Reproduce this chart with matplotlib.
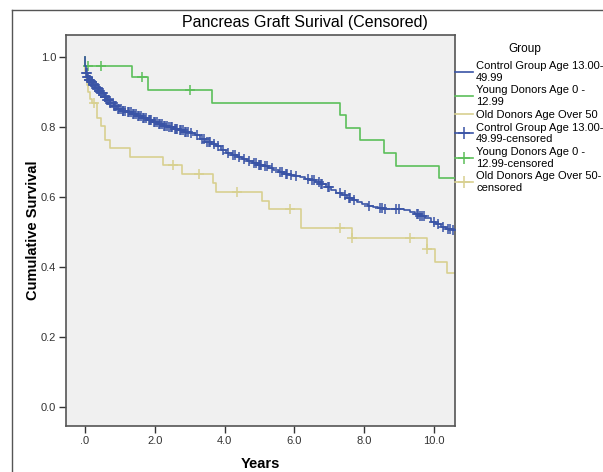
import numpy as np
import matplotlib.pyplot as plt
from matplotlib.lines import Line2D

plt.rcParams['font.family'] = ['Liberation Sans', 'DejaVu Sans']

# Daten: Ereigniszeiten (Jahre) und kumulative Überlebensrate danach
t_control = [0.0, 0.01, 0.03, 0.06, 0.10, 0.15, 0.22, 0.30, 0.38, 0.46, 0.55, 0.63, 0.72,
             0.82, 0.92, 1.05, 1.20, 1.35, 1.50, 1.65, 1.80, 1.95, 2.10, 2.25, 2.40, 2.55,
             2.70, 2.85, 3.00, 3.15, 3.30, 3.45, 3.60, 3.75, 3.90, 4.05, 4.20, 4.35, 4.50,
             4.65, 4.80, 4.95, 5.10, 5.25, 5.40, 5.55, 5.70, 5.85, 6.00, 6.15, 6.30, 6.45,
             6.60, 6.75, 6.90, 7.05, 7.20, 7.35, 7.50, 7.65, 7.80, 7.95, 8.10, 8.25, 8.40,
             8.55, 8.75, 8.95, 9.15, 9.30, 9.45, 9.60, 9.75, 9.90, 10.05, 10.20, 10.35, 10.50]
s_control = [1.0, 0.975, 0.955, 0.943, 0.935, 0.928, 0.920, 0.912, 0.904, 0.896, 0.887, 0.878, 0.869,
             0.861, 0.853, 0.847, 0.842, 0.838, 0.832, 0.826, 0.820, 0.815, 0.810, 0.804, 0.799, 0.795,
             0.791, 0.787, 0.783, 0.776, 0.767, 0.758, 0.751, 0.745, 0.735, 0.727, 0.721, 0.715, 0.708,
             0.703, 0.698, 0.692, 0.688, 0.683, 0.677, 0.671, 0.667, 0.662, 0.659, 0.656, 0.652, 0.648,
             0.643, 0.637, 0.629, 0.621, 0.613, 0.605, 0.598, 0.592, 0.586, 0.580, 0.575, 0.572, 0.569,
             0.567, 0.566, 0.565, 0.563, 0.558, 0.552, 0.546, 0.539, 0.530, 0.522, 0.515, 0.510, 0.505]
c_control = [0.04, 0.05, 0.07, 0.08, 0.11, 0.12, 0.14, 0.17, 0.19, 0.20, 0.24, 0.25, 0.28, 0.31,
             0.33, 0.36, 0.39, 0.41, 0.44, 0.47, 0.50, 0.53, 0.56, 0.58, 0.61, 0.64, 0.66, 0.70,
             0.73, 0.75, 0.79, 0.83, 0.85, 0.90, 0.94, 0.97, 1.02, 1.08, 1.10, 1.16, 1.22, 1.25,
             1.31, 1.37, 1.40, 1.46, 1.52, 1.55, 1.60, 1.67, 1.70, 1.76, 1.82, 1.85, 1.90, 1.97,
             2.00, 2.05, 2.12, 2.15, 2.20, 2.27, 2.30, 2.35, 2.42, 2.45, 2.50, 2.57, 2.60, 2.65,
             2.72, 2.75, 2.80, 2.87, 2.90, 2.95, 3.05, 3.20, 3.35, 3.40, 3.50, 3.55, 3.58, 3.70,
             3.80, 3.95, 4.10, 4.25, 4.30, 4.40, 4.55, 4.70, 4.85, 4.90, 4.98, 5.00, 5.05, 5.15,
             5.20, 5.35, 5.60, 5.65, 5.75, 5.80, 5.90, 6.05, 6.40, 6.50, 6.55, 6.70, 6.75, 6.80,
             6.95, 7.00, 7.30, 7.45, 7.55, 7.60, 7.70, 8.15, 8.45, 8.50, 8.60, 8.90, 9.00, 9.50,
             9.55, 9.60, 9.65, 9.70, 10.00, 10.10, 10.25, 10.40, 10.45, 10.55]

t_young = [0.0, 0.01, 1.36, 1.80, 3.65, 7.31, 7.47, 7.88, 8.58, 8.90, 10.14]
s_young = [1.0, 0.975, 0.942, 0.906, 0.870, 0.834, 0.798, 0.763, 0.727, 0.689, 0.655]
c_young = [0.10, 0.46, 1.64, 3.00]

t_old = [0.0, 0.01, 0.03, 0.06, 0.10, 0.15, 0.20, 0.33, 0.47, 0.57, 0.72, 1.29, 2.24, 2.79,
         3.66, 3.75, 5.08, 5.27, 6.18, 7.66, 9.79, 10.03, 10.36]
s_old = [1.0, 0.96, 0.94, 0.92, 0.90, 0.88, 0.869, 0.826, 0.803, 0.763, 0.740, 0.714, 0.691, 0.666,
         0.641, 0.615, 0.589, 0.565, 0.511, 0.482, 0.453, 0.415, 0.382]
c_old = [0.27, 2.52, 3.27, 4.36, 5.87, 7.31, 7.66, 9.31, 9.80]

t_end = 10.6  # letzte Beobachtung

labels = ["Control Group Age 13.00-\n49.99", "Young Donors Age 0 -\n12.99", "Old Donors Age Over 50"]
labels_c = ["Control Group Age 13.00-\n49.99-censored", "Young Donors Age 0 -\n12.99-censored",
            "Old Donors Age Over 50-\ncensored"]
farben = ["#3a54a6", "#5cbf5a", "#d8d090"]

fig = plt.figure(figsize=(6.03, 4.72), dpi=100)
ax = fig.add_axes([66/603, 46/472, 389/603, 391/472])
ax.set_facecolor("#f0f0f0")

kurven = [(t_control, s_control, c_control), (t_young, s_young, c_young), (t_old, s_old, c_old)]
# Reihenfolge: tan zuerst, blau oben
for i in [2, 1, 0]:
    t, s, c = kurven[i]
    tt = np.append(t, t_end)
    ss = np.append(s, s[-1])
    ax.step(tt, ss, where='post', color=farben[i], lw=1.2, zorder=2 + (2 - i))
    idx = np.searchsorted(t, c, side='right') - 1
    ax.plot(c, np.array(s)[idx], '+', color=farben[i], ms=6.5, mew=1.1, zorder=2 + (2 - i))

# Achsen
ax.set_xlim(-0.544, 10.6)
ax.set_ylim(-0.054, 1.063)
ax.set_xticks([0, 2, 4, 6, 8, 10])
ax.set_xticklabels([".0", "2.0", "4.0", "6.0", "8.0", "10.0"])
ax.set_yticks([0, 0.2, 0.4, 0.6, 0.8, 1.0])
ax.set_yticklabels(["0.0", "0.2", "0.4", "0.6", "0.8", "1.0"])
ax.tick_params(direction='out', length=5, width=1, labelsize=8, colors="#333333", pad=2)
for sp in ax.spines.values():
    sp.set_color("#555555")
    sp.set_linewidth(1.2)

ax.set_xlabel("Years", fontsize=10.5, fontweight='bold', labelpad=8)
ax.set_ylabel("Cumulative Survival", fontsize=10.5, fontweight='bold', labelpad=1)
fig.text(305/603, 1 - 23/472, "Pancreas Graft Surival (Censored)", ha='center', va='center',
         fontsize=11.5)

# Legende
handles = [Line2D([], [], color=f, lw=1.2) for f in farben]
handles += [Line2D([], [], color=f, lw=1.2, marker='+', ms=9, mew=1.1) for f in farben]
fig.text(525/603, 1 - 49/472, "Group", ha='center', va='center', fontsize=8.5)
leg = fig.legend(handles, labels + labels_c, loc='upper left',
                 bbox_to_anchor=(455/603, 1 - 61/472), frameon=False, fontsize=8,
                 handlelength=1.6, handletextpad=0.3, labelspacing=0.25,
                 borderaxespad=0, borderpad=0)

# Rahmen aussen
fig.add_artist(Line2D([12/603, 12/603], [0, 1 - 10/472], color="#555555", lw=1))
fig.add_artist(Line2D([12/603, 1], [1 - 10/472, 1 - 10/472], color="#555555", lw=1))

plt.savefig("out.png", dpi=100)
